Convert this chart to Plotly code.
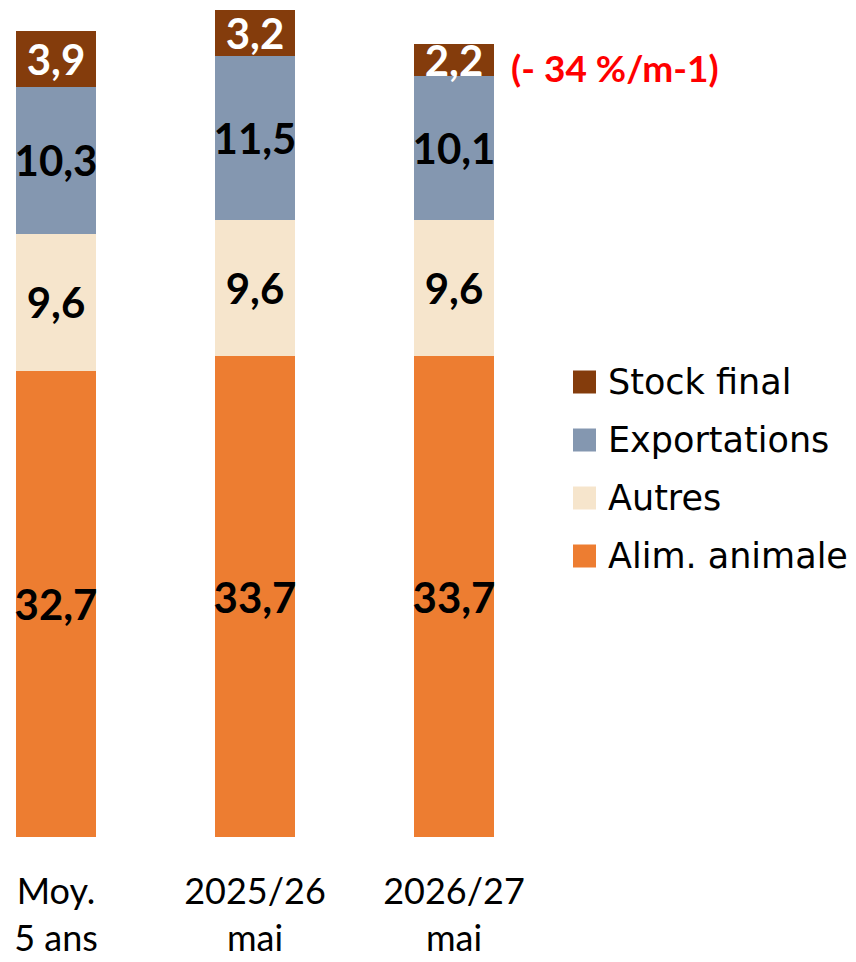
import plotly.graph_objects as go
import numpy as np

categories = ["Moy.<br>5 ans", "2025/26<br>mai", "2026/27<br>mai"]
series_names = ["Alim. animale", "Autres", "Exportations", "Stock final"]
alim = [32.7, 33.7, 33.7]
autres = [9.6, 9.6, 9.6]
export = [10.3, 11.5, 10.1]
stock = [3.9, 3.2, 2.2]
colors = ["#ED7D31", "#F6E5CC", "#8497B0", "#843C0C"]
text_colors = ["black", "black", "black", "white"]
note_text = "(- 34 %/m-1)"

values = [alim, autres, export, stock]
LABEL_FONT = "Lato"
TEXT_FONT = "DejaVu Sans"
W, H = 840, 954          # page body has an 8px margin
mt, mb = 2, 125

fig = go.Figure()
xs = list(range(len(categories)))
for name, vals, col, tc in zip(series_names, values, colors, text_colors):
    fig.add_trace(go.Bar(
        x=xs, y=vals, name=name, marker=dict(color=col, line=dict(width=0)),
        text=[f"{v:.1f}".replace(".", ",") for v in vals],
        textposition="inside", insidetextanchor="middle", textangle=0,
        constraintext="none",
        textfont=dict(family=LABEL_FONT, size=42, color=tc, weight="bold"),
        showlegend=False, width=0.402, hoverinfo="skip",
    ))

# annotation next to the last stock segment
totals_before = np.array(alim) + np.array(autres) + np.array(export)
fig.add_annotation(x=2, y=totals_before[2] + stock[2] / 2, xref="x", yref="y",
                   text=f"<b>{note_text}</b>", showarrow=False, xanchor="left",
                   yanchor="middle", xshift=55, yshift=-8,
                   font=dict(family=LABEL_FONT, size=37, color="#FF0000"))

# manual legend (top-to-bottom: Stock final, Exportations, Autres, Alim. animale)
ph = H - mt - mb
legend_px_y = [374, 432, 490, 548]
for i, (name, col) in enumerate(zip(series_names[::-1], colors[::-1])):
    py = legend_px_y[i]
    yc = (H - mb - py) / ph
    fig.add_shape(type="rect", xref="paper", yref="paper",
                  x0=565 / W, x1=588 / W, y0=yc - 11.5 / ph, y1=yc + 11.5 / ph,
                  fillcolor=col, line=dict(width=0))
    fig.add_annotation(x=598 / W, y=yc, xref="paper", yref="paper", text=name,
                       showarrow=False, xanchor="left", yanchor="middle",
                       font=dict(family=TEXT_FONT, size=35, color="black"))

x0 = -48 / 199
fig.update_layout(
    width=W, height=H, barmode="stack",
    margin=dict(l=0, r=0, t=mt, b=mb),
    plot_bgcolor="white", paper_bgcolor="white",
    xaxis=dict(range=[x0, x0 + W / 199], tickmode="array", tickvals=xs,
               ticktext=categories, showgrid=False, zeroline=False, showline=False,
               ticks="", ticklabelstandoff=30, automargin=False,
               tickfont=dict(family=LABEL_FONT, size=36, color="black")),
    yaxis=dict(range=[0, 58], visible=False, automargin=False),
    showlegend=False,
)
fig.write_html("out.html")
